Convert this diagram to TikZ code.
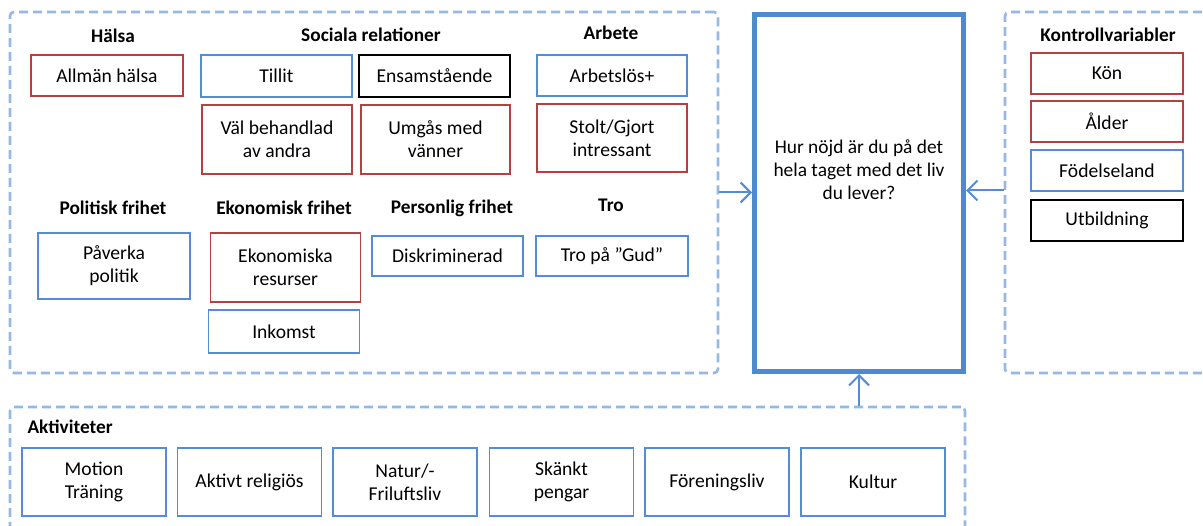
\documentclass[tikz,border=0pt]{standalone}
\usepackage{fontspec}
\setmainfont{Carlito}
\usetikzlibrary{arrows.meta}
\definecolor{boxBlue}{RGB}{84, 141, 212}
\definecolor{boxRed}{RGB}{180, 64, 64}
\definecolor{dashBlue}{RGB}{150, 185, 228}
\definecolor{mainBlue}{RGB}{78, 138, 210}

\tikzset{
  grp/.style={draw=dashBlue, dash pattern=on 9pt off 5pt, line width=2.6pt, rounded corners=4pt},
  item/.style={draw, line width=1.8pt, align=center, inner sep=0pt,
    minimum width=151pt, minimum height=41pt, font=\fontsize{19.6}{23}\selectfont},
  blueitem/.style={item, draw=boxBlue},
  reditem/.style={item, draw=boxRed},
  blackitem/.style={item, draw=black},
  head/.style={font=\fontsize{19.3}{22}\selectfont\bfseries},
  arr/.style={draw=boxBlue, line width=2pt, -{Straight Barb[length=10pt,width=20pt,line width=2pt]}}
}

\begin{document}
\begin{tikzpicture}[x=1pt, y=-1pt]
  \clip (0,0) rectangle (1203,526);
  \fill[white] (0,0) rectangle (1203,526);

  % groups
  \node[grp, minimum width=708pt, minimum height=361pt] (grp) at (364,192.5) {};
  \node[grp, minimum width=215pt, minimum height=361pt] (ctrl) at (1112.5,192.5) {};
  \node[grp, minimum width=955pt, minimum height=133pt] (act) at (487.5,473.5) {};

  % outcome
  \node[draw=mainBlue, line width=5pt, minimum width=209pt, minimum height=357pt] (main) at (859,193) {};
  \node[align=center, font=\fontsize{19.4}{23}\selectfont] (q) at ([yshift=23pt]main.center)
    {Hur nöjd är du på det\\hela taget med det liv\\du lever?};

  % headings
  \node[head] (hHalsa) at (113,36) {Hälsa};
  \node[head] (hSoc) at (371,35) {Sociala relationer};
  \node[head] (hArb) at (611,33) {Arbete};
  \node[head] (hPol) at (113,208) {Politisk frihet};
  \node[head] (hEko) at (284,208) {Ekonomisk frihet};
  \node[head] (hPers) at (452,208) {Personlig frihet};
  \node[head] (hTro) at (611,205) {Tro};
  \node[head] (hKtrl) at (1108,35) {Kontrollvariabler};
  \node[head, anchor=west] (hAkt) at (24,427) {Aktiviteter};

  % factors
  \node[reditem, minimum width=152pt] (halsa) at (107,75.5) {Allmän hälsa};
  \node[blueitem, minimum height=42pt] (tillit) at (276.5,76) {Tillit};
  \node[blackitem, minimum height=42pt] (ensam) at (434.5,76) {Ensamstående};
  \node[reditem, minimum width=150pt, minimum height=69pt] (val) at (277,139.5) {Väl behandlad\\av andra};
  \node[reditem, minimum width=149pt, minimum height=69pt] (umgas) at (435.5,139.5) {Umgås med\\vänner};
  \node[blueitem, minimum width=150pt] (arblos) at (612,75.5) {Arbetslös+};
  \node[reditem, minimum width=150pt, minimum height=68pt] (stolt) at (612,138) {Stolt/Gjort\\intressant};
  \node[blueitem, minimum width=152pt, minimum height=66pt] (paverka) at (114,266) {Påverka\\politik};
  \node[reditem, minimum width=150pt, minimum height=69pt] (ekores) at (285.5,267.5) {Ekonomiska\\resurser};
  \node[blueitem, minimum height=43pt] (inkomst) at (284,331.5) {Inkomst};
  \node[blueitem, minimum height=40pt] (diskr) at (447.5,256) {Diskriminerad};
  \node[blueitem, minimum width=152pt, minimum height=40pt] (gud) at (612,256) {Tro på ”Gud”};

  % control variables
  \node[reditem, minimum width=152pt] (kon) at (1107,73.5) {Kön};
  \node[reditem, minimum width=152pt] (alder) at (1107,121.5) {Ålder};
  \node[blueitem, minimum width=152pt] (fodd) at (1107,170.5) {Födelseland};
  \node[blackitem, minimum width=152pt] (utb) at (1107,220.5) {Utbildning};

  % activities
  \node[blueitem, minimum width=144pt, minimum height=68pt] (motion) at (94,482) {Motion\\Träning};
  \node[blueitem, minimum width=144pt, minimum height=68pt] (relig) at (249.5,482) {Aktivt religiös};
  \node[blueitem, minimum width=144pt, minimum height=68pt] (natur) at (405,482) {Natur/-\\Friluftsliv};
  \node[blueitem, minimum width=144pt, minimum height=68pt] (skankt) at (561.5,482) {Skänkt\\pengar};
  \node[blueitem, minimum width=144pt, minimum height=68pt] (foren) at (717,482) {Föreningsliv};
  \node[blueitem, minimum width=144pt, minimum height=68pt] (kultur) at (873,482) {Kultur};

  % arrows
  \draw[arr] (grp.east) -- (grp.east -| main.west);
  \draw[arr] ([yshift=2pt]ctrl.west) -- ([yshift=2pt]ctrl.west -| main.east);
  \draw[arr] (main.south |- act.north) -- (main.south);
\end{tikzpicture}
\end{document}
